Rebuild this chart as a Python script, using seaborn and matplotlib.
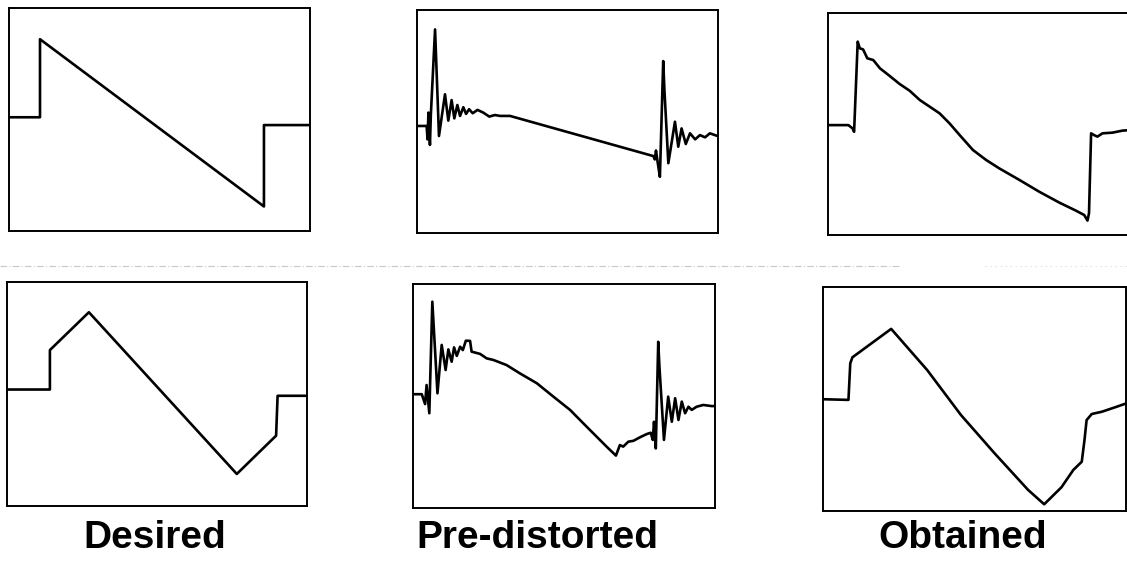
import matplotlib
matplotlib.use("Agg")
import pandas as pd
import matplotlib.pyplot as plt
import seaborn as sns
from matplotlib.lines import Line2D

# Waveforms (time 0-100, amplitude 0-100 of the frame)
desired_top_x = [0, 10.3, 10.3, 84.7, 84.7, 100]
desired_top_y = [51, 51, 86, 11, 47.5, 47.5]

predist_top_x = [0, 3.2, 3.5, 3.8, 4.3, 4.6, 6.0, 7.3, 9.3, 10.4, 11.5, 12.4, 13.4, 14.3,
                 15.4, 16.3, 17.3, 18.5, 20.1, 22.0, 24.0, 25.9, 27.6, 30.9, 78.5, 79.0,
                 79.4, 80.0, 80.7, 81.8, 82.2, 83.5, 85.7, 86.8, 87.9, 89.3, 90.7, 92.4,
                 94.0, 95.7, 97.3, 99.6, 100]
predist_top_y = [48, 48, 42, 54, 39.5, 53, 91.3, 43.5, 62.2, 50.4, 59.6, 51.4, 57.4, 52.5,
                 56.4, 53.4, 55.5, 53.7, 55.2, 54.0, 52.2, 52.9, 52.5, 52.5, 34.5, 33.0,
                 37.0, 31.3, 25.2, 77.1, 64.1, 31.3, 49.9, 38.7, 46.9, 39.9, 44.7, 42.0,
                 43.9, 42.9, 44.7, 43.6, 43.6]

obtained_top_x = [0, 6.8, 8.2, 8.7, 9.9, 10.6, 11.7, 13.1, 15.1, 17.3, 20.6, 23.9, 27.2,
                  30.6, 33.9, 37.2, 40.5, 43.9, 48.3, 52.7, 57.1, 63.8, 70.4, 77.1, 82.6,
                  85.4, 86.5, 87.0, 87.7, 88.7, 89.8, 91.5, 94.8, 98.1, 100]
obtained_top_y = [49.5, 49.5, 48.0, 46.5, 87.1, 84.1, 83.6, 79.6, 78.8, 75.1, 71.6, 68.0,
                  65.0, 60.8, 57.8, 54.8, 50.3, 45.0, 38.3, 33.8, 30.0, 24.8, 19.5, 14.6,
                  11.0, 9.0, 6.5, 9.8, 45.8, 45.0, 44.3, 45.8, 46.1, 47.0, 47.2]

desired_bot_x = [0, 14.3, 14.3, 27.3, 76.6, 89.7, 90.2, 100]
desired_bot_y = [52, 52, 69.6, 86.5, 14.3, 31.4, 49.2, 49.2]

predist_bot_x = [0, 2.9, 4.0, 4.5, 5.4, 6.4, 8.1, 9.5, 10.8, 11.7, 12.8, 13.6, 14.5, 15.6,
                 16.5, 17.5, 18.9, 19.4, 22.2, 24.4, 26.6, 31.0, 35.4, 41.0, 46.5, 52.0,
                 57.5, 64.1, 67.2, 68.5, 69.6, 71.3, 73.0, 75.2, 77.4, 78.7, 79.4, 79.8,
                 80.4, 81.2, 81.6, 83.1, 84.5, 85.7, 86.8, 87.9, 89.0, 90.1, 91.2, 92.3,
                 93.9, 96.1, 98.9, 100]
predist_bot_y = [50.8, 50.8, 46.4, 54.9, 42.3, 92.1, 51.2, 72.8, 61.6, 70.8, 65.3, 71.7,
                 67.9, 72.0, 70.5, 74.7, 74.6, 69.8, 68.8, 66.8, 66.1, 63.8, 60.1, 55.7,
                 49.7, 43.8, 36.3, 27.4, 23.4, 28.1, 27.4, 29.6, 30.0, 31.6, 33.0, 33.6,
                 30.4, 38.5, 26.6, 74.2, 63.1, 30.4, 49.7, 38.5, 49.0, 39.3, 47.5, 42.3,
                 45.2, 43.8, 45.2, 46.0, 45.5, 45.5]

obtained_bot_x = [0, 8.4, 9.0, 9.7, 22.5, 34.4, 45.5, 56.6, 67.7, 73.0, 78.7, 82.6, 85.4,
                  86.3, 87.0, 88.7, 92.0, 96.4, 100]
obtained_bot_y = [49.9, 49.6, 65.9, 68.6, 81.3, 62.9, 42.9, 25.8, 9.4, 3.0, 10.6, 18.3,
                  22.0, 31.7, 40.6, 43.3, 44.3, 46.3, 48.0]

labels = ["Desired", "Pre-distorted", "Obtained"]

panels = [
    (desired_top_x, desired_top_y, (9, 8, 301, 223)),
    (predist_top_x, predist_top_y, (417, 10, 301, 223)),
    (obtained_top_x, obtained_top_y, (828, 13, 300, 222)),
    (desired_bot_x, desired_bot_y, (7, 282, 300, 224)),
    (predist_bot_x, predist_bot_y, (413, 284, 302, 224)),
    (obtained_bot_x, obtained_bot_y, (823, 287, 303, 224)),
]

W, H = 1127, 566
sns.set_style("white")
plt.rcParams["font.family"] = ["Liberation Sans", "DejaVu Sans"]

fig = plt.figure(figsize=(W / 100, H / 100), dpi=100)
fig.patch.set_facecolor("white")

for xs, ys, (px, py, pw, ph) in panels:
    ax = fig.add_axes([px / W, 1 - (py + ph) / H, pw / W, ph / H])
    df = pd.DataFrame({"t": xs, "v": ys})
    sns.lineplot(data=df, x="t", y="v", sort=False, estimator=None,
                 color="black", linewidth=1.9, ax=ax)
    ax.set_xlim(0, 100)
    ax.set_ylim(0, 100)
    ax.set_xticks([])
    ax.set_yticks([])
    ax.set_xlabel("")
    ax.set_ylabel("")
    for s in ax.spines.values():
        s.set_color("black")
        s.set_linewidth(1.4)

# faint scanner streak between the rows
fig.add_artist(Line2D([0, 900 / W], [1 - 266 / H] * 2, color="#c8c8c8",
                      linewidth=0.8, linestyle=(0, (6, 2, 1, 2))))
fig.add_artist(Line2D([985 / W, 1], [1 - 266 / H] * 2, color="#dddddd",
                      linewidth=0.6, linestyle=(0, (2, 4))))

for cx, lab in zip([155, 537, 963], labels):
    fig.text(cx / W, 1 - 548 / H, lab, ha="center", va="baseline",
             fontsize=28, fontweight="bold", color="black")

plt.savefig("out.png", dpi=100)
